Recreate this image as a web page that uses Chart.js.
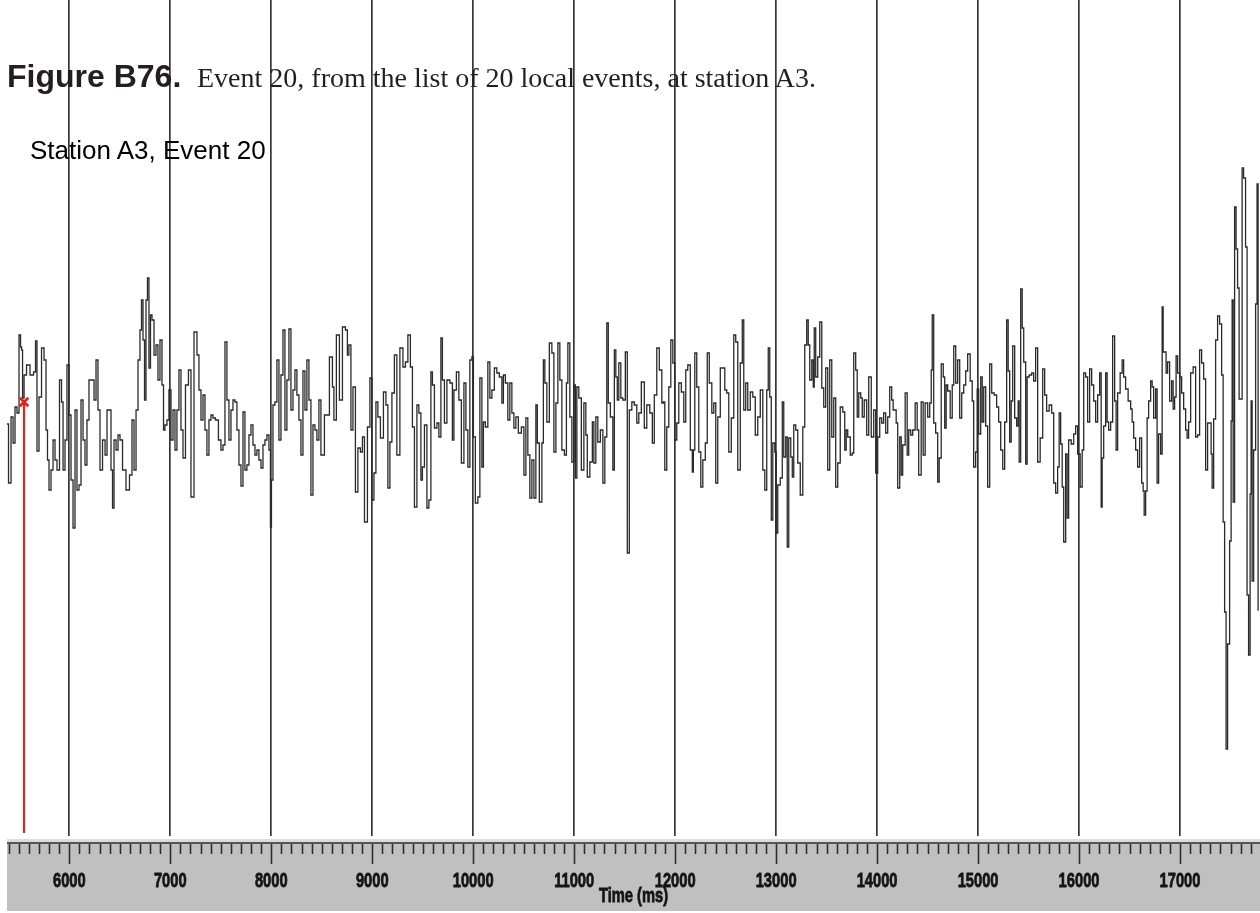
<!DOCTYPE html>
<html>
<head>
<meta charset="utf-8">
<title>Station A3, Event 20</title>
<script src="https://cdn.jsdelivr.net/npm/chart.js@4.4.1/dist/chart.umd.min.js"></script>
<style>
  html, body { margin: 0; padding: 0; background: #fff; }
  #wrap { position: relative; width: 1260px; height: 913px; overflow: hidden; }
  #seismo { position: absolute; left: 0; top: 0; }
  .txt { position: absolute; white-space: nowrap; }
  #figLabel { left: 7px; top: 60px; font: bold 32px/1 "Liberation Sans", Arial, sans-serif; color: #231f20; }
  #figCaption { left: 197px; top: 63.5px; font: 28px/1 "Liberation Serif", "Times New Roman", serif; color: #231f20; }
  #station { left: 30px; top: 137px; font: 26px/1 "Liberation Sans", Arial, sans-serif; color: #000; }
</style>
</head>
<body>
<div id="wrap">
  <canvas id="seismo" width="1260" height="913"></canvas>
  <div class="txt" id="figLabel">Figure B76.</div>
  <div class="txt" id="figCaption">Event 20, from the list of 20 local events, at station A3.</div>
  <div class="txt" id="station">Station A3, Event 20</div>
</div>
<script>
// time of each sample (ms) and trace amplitude (counts, relative)
const timeMs = [
  5383, 5413, 5433, 5453, 5472, 5492, 5512, 5522, 5532, 5542,
  5562, 5591, 5631, 5661, 5670, 5690, 5710, 5740, 5760, 5779,
  5789, 5809, 5829, 5849, 5868, 5888, 5918, 5928, 5948, 5967,
  5987, 6007, 6027, 6047, 6066, 6086, 6106, 6126, 6146, 6165,
  6185, 6205, 6235, 6255, 6274, 6294, 6314, 6344, 6364, 6383,
  6403, 6423, 6433, 6453, 6473, 6492, 6512, 6542, 6581, 6611,
  6631, 6651, 6671, 6690, 6710, 6720, 6740, 6750, 6769, 6779,
  6799, 6809, 6829, 6849, 6868, 6888, 6908, 6928, 6938, 6957,
  6977, 6997, 7017, 7037, 7056, 7076, 7096, 7116, 7136, 7165,
  7195, 7215, 7255, 7274, 7294, 7314, 7334, 7353, 7373, 7393,
  7413, 7433, 7462, 7492, 7512, 7532, 7551, 7571, 7591, 7611,
  7631, 7650, 7670, 7690, 7710, 7730, 7749, 7769, 7789, 7809,
  7829, 7848, 7868, 7888, 7908, 7928, 7947, 7967, 7987, 7997,
  8007, 8027, 8046, 8066, 8086, 8106, 8126, 8145, 8165, 8185,
  8205, 8225, 8244, 8264, 8284, 8304, 8324, 8343, 8363, 8383,
  8403, 8423, 8442, 8462,
  8482, 8502, 8551, 8601, 8611, 8630, 8660, 8690, 8720, 8749,
  8759, 8779, 8799, 8819, 8848, 8868, 8898, 8908, 8938, 8967,
  8987, 9007, 9027, 9046, 9066, 9096, 9126, 9145, 9165, 9185,
  9205, 9234, 9254, 9294, 9314, 9343, 9363, 9393, 9403, 9433,
  9452, 9472, 9492, 9502, 9532, 9551, 9571, 9591, 9601, 9631,
  9650, 9670, 9690, 9700, 9730, 9749, 9789, 9799, 9819, 9848,
  9868, 9898, 9918, 9937, 9957, 9977, 9997, 10007, 10036, 10056,
  10076, 10096, 10106, 10135, 10155, 10175, 10195, 10224, 10244, 10274,
  10294, 10304, 10333, 10353, 10373, 10393, 10413, 10432, 10462, 10492,
  10512, 10531, 10551, 10571, 10591, 10611, 10630, 10640, 10670, 10690,
  10700, 10719, 10739, 10769, 10789, 10809, 10829, 10848, 10868, 10888,
  10918, 10928, 10947, 10967, 10987, 11007, 11017, 11036, 11056, 11086,
  11106, 11125, 11135, 11175, 11185, 11205, 11224, 11244, 11274, 11294,
  11313, 11333, 11343, 11373, 11393, 11403, 11422, 11432, 11452, 11472,
  11492, 11521, 11531, 11561, 11581, 11610, 11630,
  11650, 11680, 11709, 11729, 11769, 11779, 11808, 11828, 11858, 11878,
  11888, 11907, 11927, 11947, 11967, 11987, 12006, 12026, 12046, 12076,
  12095, 12115, 12135, 12165, 12175, 12185, 12204, 12224, 12244, 12264,
  12284, 12313, 12323, 12353, 12373, 12392, 12412, 12432, 12462, 12482,
  12501, 12521, 12541, 12571, 12590, 12610, 12630, 12660, 12670, 12689,
  12709, 12729, 12759, 12779, 12808, 12828, 12858, 12878, 12897, 12917,
  12927, 12947, 12957, 12977, 12996, 13006, 13026, 13056, 13066, 13085,
  13105, 13115, 13135, 13155, 13165, 13184, 13204, 13224, 13254, 13274,
  13293, 13313, 13323, 13343, 13363, 13373, 13382, 13402, 13422, 13442,
  13462, 13481, 13501, 13521, 13541, 13561, 13580, 13600, 13620, 13650,
  13670, 13689, 13699, 13719, 13749, 13759, 13778, 13798, 13808, 13828,
  13848, 13858, 13887, 13907, 13927, 13957, 13976, 13996, 14016, 14036,
  14055, 14075, 14095, 14115, 14135, 14154, 14164, 14184, 14194, 14214,
  14234, 14244, 14263, 14293, 14303, 14323, 14343, 14362, 14392, 14402,
  14422, 14451, 14461, 14491, 14511, 14531, 14541, 14551, 14570, 14590,
  14610,
  14620, 14650, 14660, 14679, 14689, 14709, 14739, 14749, 14769, 14788,
  14808, 14828, 14848, 14868, 14887, 14907, 14937, 14947, 14966, 14986,
  14996, 15016, 15036, 15046, 15066, 15085, 15105, 15125, 15145, 15174,
  15194, 15214, 15234, 15254, 15273, 15293, 15303, 15323, 15333, 15353,
  15372, 15392, 15402, 15412, 15432, 15442, 15462, 15481, 15491, 15521,
  15541, 15560, 15580, 15600, 15630, 15650, 15669, 15689, 15719, 15739,
  15759, 15778, 15798, 15808, 15828, 15838, 15858, 15877, 15887, 15907,
  15937, 15957, 15976, 15996, 16026, 16036, 16056, 16075, 16095, 16115,
  16135, 16155, 16174, 16194, 16214, 16224, 16234, 16254, 16273, 16283,
  16303, 16323, 16343, 16362, 16372, 16392, 16422, 16432, 16451, 16471,
  16501, 16521, 16531, 16551, 16570, 16590, 16610, 16630, 16640, 16650,
  16669, 16679, 16699, 16719, 16729, 16749, 16768, 16778, 16798, 16818,
  16828, 16838, 16857, 16867, 16887, 16907, 16927, 16937, 16956, 16966,
  16986, 17006, 17026, 17046, 17065, 17075, 17095,
  17115, 17145, 17164, 17184, 17204, 17224, 17244, 17263, 17283, 17303,
  17313, 17323, 17343, 17362, 17382, 17402, 17422, 17432, 17451, 17461,
  17481, 17501, 17511, 17521, 17531, 17550, 17560, 17580, 17590, 17610,
  17620, 17639, 17659, 17669, 17689, 17699, 17709, 17719, 17739, 17758,
  17768, 17778
];

const amplitude = [
  -14, -73, -7, -33, 3, -3, 75, 63, 60, 12,
  35, 45, 35, 38, 69, -41, 13, 62, 50, -20,
  -50, -80, -60, -30, -50, -60, 30, 8, -60, -30,
  45, -5, -70, -118, 0, -80, -75, 10, -30, -55,
  -10, 30, 30, 10, 50, 0, -60, -30, -45, 0,
  0, -60, -98, -30, -40, -25, -30, -60, -80, -65,
  -10, -60, 0, 50, 80, 110, 70, 10, 110, 132,
  42, 95, 90, 55, 65, 30, 70, 25, -20, -15,
  -10, 20, -30, 0, -40, 0, 40, -20, -48, 25,
  40, -87, 78, 55, 20, -10, 15, -20, -45, -10,
  -5, -8, -10, -30, -40, -35, 68, 10, -30, 0,
  10, 8, -20, -55, -76, -2, -60, -55, -25, -15,
  -35, -45, -40, -50, -58, -35, -30, -25, -40, -117,
  -70, 5, 8, 50, -30, 35, 80, -20, 30, 81,
  0, 20, 40, 15, -10, -45, 39, 0, 50, 10,
  -85, -15, -20, -30,
  10, -45, -5, 53, 23, -10, 75, 10, 83, 80,
  55, 65, -20, 23, -82, -38, -42, -27, -112, -17,
  32, -90, -63, 8, -7, -28, 18, 5, -78, -32,
  17, 55, -45, 62, 43, 48, 75, 43, -17, -97,
  5, -3, -70, -57, -15, -98, -90, 38, 25, -18,
  -13, -27, 72, 30, -13, 30, 27, -30, 20, 38,
  10, -53, 27, -20, -57, 50, 53, -27, -93, -87,
  32, -57, -12, -17, 48, 12, 20, 42, 37, 33,
  7, 35, 27, -10, 27, -3, -18, -7, -23, -17,
  -65, -8, -45, -88, -50, -88, 5, -33, -92, -33,
  50, 27, -12, 67, 57, -42, 7, 67, 30, -40,
  -45, 27, 67, -7, -52, 25, -68, 23, 12, -60,
  7, -25, -67, -52, -12, -53, -7, -32, -20, -73,
  -27, 87, 7, -7, -60, 60, 33, 10, 47, 12,
  10, 58, -143, 0, 8, 5, -13,
  -3, 28, -18, 5, -3, -33, 15, 62, 40, 7,
  8, -60, -17, 23, 70, 47, -30, -13, 27, 18,
  -12, 40, 45, -40, -62, -40, 57, 23, -42, -77,
  -50, -33, 57, 27, -3, 7, -73, -7, 42, 42,
  20, 17, -42, -8, 75, 68, -60, 47, 90, 0,
  27, 0, 18, 13, -25, -7, 20, -60, -80, 20,
  62, 13, -110, -33, -42, -123, -75, -68, 8, -47,
  -27, -137, -28, -47, -67, -15, -20, -53, -85, -17,
  65, 90, 65, 30, 50, 23, 82, 33, 53, 88,
  22, 3, 42, -60, 50, -27, 12, -77, -53, 3,
  -2, -40, -20, -27, -45, -43, 57, 40, -7, 17,
  12, -7, 10, -25, 33, -27, 0, -63, -27, -8,
  -13, -3, -23, -7, 23, 10, 0, 0, -13, -78,
  -27, -65, -35, 17, -45, -20, -25, -20, 7, -20,
  -65, 8, -45, 7, -7, 7, 40, 95, -13, -23,
  -72,
  -48, 46, 33, -18, 25, 19, -8, 25, 64, 27,
  50, -8, 17, 25, 39, 56, 29, 9, -57, -42,
  21, -24, 33, -12, 23, -16, -77, 46, 17, 15,
  3, -12, -40, -59, -12, 90, 39, -32, 9, 64,
  -8, -16, 9, -52, 121, 82, 48, -54, 33, 35,
  37, 29, 62, -52, -28, 41, 15, -1, 5, -3,
  -73, -83, -57, -3, -34, -77, -132, -44, -108, -30,
  -34, -24, -16, -44, -77, -40, 37, 33, -12, 41,
  25, 9, -12, 15, 37, -97, -48, -16, 37, -12,
  -20, -12, 74, 9, -40, 17, 37, 50, 33, 21,
  9, 1, -12, -28, -40, -57, -28, -73, -81, -105,
  -81, -8, 9, 29, 23, -8, 21, -73, -24, -44,
  103, 58, 58, 37, 48, 9, 29, 1, 13, 54,
  37, 33, 17, 1, -20, -28, -12,
  37, 43, -27, -25, 60, 47, 31, -60, -13, -13,
  -44, -78, -9, 70, 94, 86, 35, -112, -202, -339,
  -234, -131, -11, 110, -92, 203, 161, 122, 11, 11,
  242, 232, 163, -185, -245, -84, 9, -171, -40, 106,
  226, -200
];

// P-wave pick (red marker and line down to the time ruler)
const pickTime = 5552;
const pickAmplitude = [8, -423];

const tickValues = [6000, 7000, 8000, 9000, 10000, 11000, 12000, 13000, 14000, 15000, 16000, 17000];
const axisTitle = 'Time (ms)';

const trace = timeMs.map((t, i) => ({ x: t, y: amplitude[i] }));
const pick = pickAmplitude.map(a => ({ x: pickTime, y: a }));

// grey ruler strip under the plot: minor ticks every 100 ms, condensed bold labels
const rulerPlugin = {
  id: 'ruler',
  beforeDraw(chart) {
    const { ctx, chartArea } = chart;
    const xs = chart.scales.x;
    const top = chartArea.bottom + 3;
    const w = xs.right - xs.left;
    ctx.save();
    ctx.fillStyle = '#c0c0c0';
    ctx.fillRect(xs.left, top, w, 72);
    ctx.fillStyle = '#dcdcdc';
    ctx.fillRect(xs.left, top, w, 3);
    ctx.fillStyle = '#555';
    ctx.fillRect(xs.left, top + 3, w, 2);
    ctx.strokeStyle = '#2e2e2e';
    ctx.lineWidth = 1.6;
    for (let v = 5400; v <= 17700; v += 100) {
      const px = Math.round(xs.getPixelForValue(v)) + 0.5;
      const len = v % 1000 === 0 ? 20 : 10;
      ctx.beginPath();
      ctx.moveTo(px, top + 5);
      ctx.lineTo(px, top + 5 + len);
      ctx.stroke();
    }
    ctx.restore();
  },
  afterDraw(chart) {
    const { ctx, chartArea } = chart;
    const xs = chart.scales.x;
    const put = (text, x, y) => {
      ctx.save();
      ctx.translate(x, y);
      ctx.scale(0.7, 1);
      ctx.strokeText(text, 0, 0);
      ctx.fillText(text, 0, 0);
      ctx.restore();
    };
    ctx.save();
    ctx.fillStyle = '#141414';
    ctx.strokeStyle = '#141414';
    ctx.lineWidth = 0.8;
    ctx.font = 'bold 21px "Liberation Sans", Arial, sans-serif';
    ctx.textAlign = 'center';
    ctx.textBaseline = 'middle';
    xs.ticks.forEach((t, i) => put(String(t.value), xs.getPixelForTick(i), chartArea.bottom + 45));
    put(axisTitle, (xs.left + xs.right) / 2, chartArea.bottom + 60);
    ctx.restore();
  }
};

new Chart(document.getElementById('seismo'), {
  type: 'line',
  data: {
    datasets: [
      {
        label: 'Pick',
        data: pick,
        borderColor: '#e2231a',
        borderWidth: 2.2,
        pointRadius: [6, 0],
        pointStyle: 'crossRot',
        pointBorderColor: '#e2231a',
        pointBorderWidth: 2.8
      },
      {
        label: 'Station A3',
        data: trace,
        borderColor: '#2a2a2a',
        borderWidth: 1.3,
        pointRadius: 0,
        stepped: 'middle'
      }
    ]
  },
  options: {
    responsive: false,
    animation: false,
    devicePixelRatio: 1,
    events: [],
    layout: { autoPadding: false, padding: { left: 7, right: 0, top: 0, bottom: 0 } },
    plugins: {
      legend: { display: false },
      tooltip: { enabled: false }
    },
    scales: {
      x: {
        type: 'linear',
        min: 5383,
        max: 17792,
        afterBuildTicks: s => { s.ticks = tickValues.map(v => ({ value: v })); },
        afterFit: s => { s.height = 77; },
        grid: { color: '#363636', lineWidth: 1.7, drawTicks: false },
        border: { display: false },
        ticks: { display: false },
        title: { display: false, text: axisTitle }
      },
      y: { type: 'linear', display: false, min: -426, max: 410 }
    }
  },
  plugins: [rulerPlugin]
});
</script>
</body>
</html>
